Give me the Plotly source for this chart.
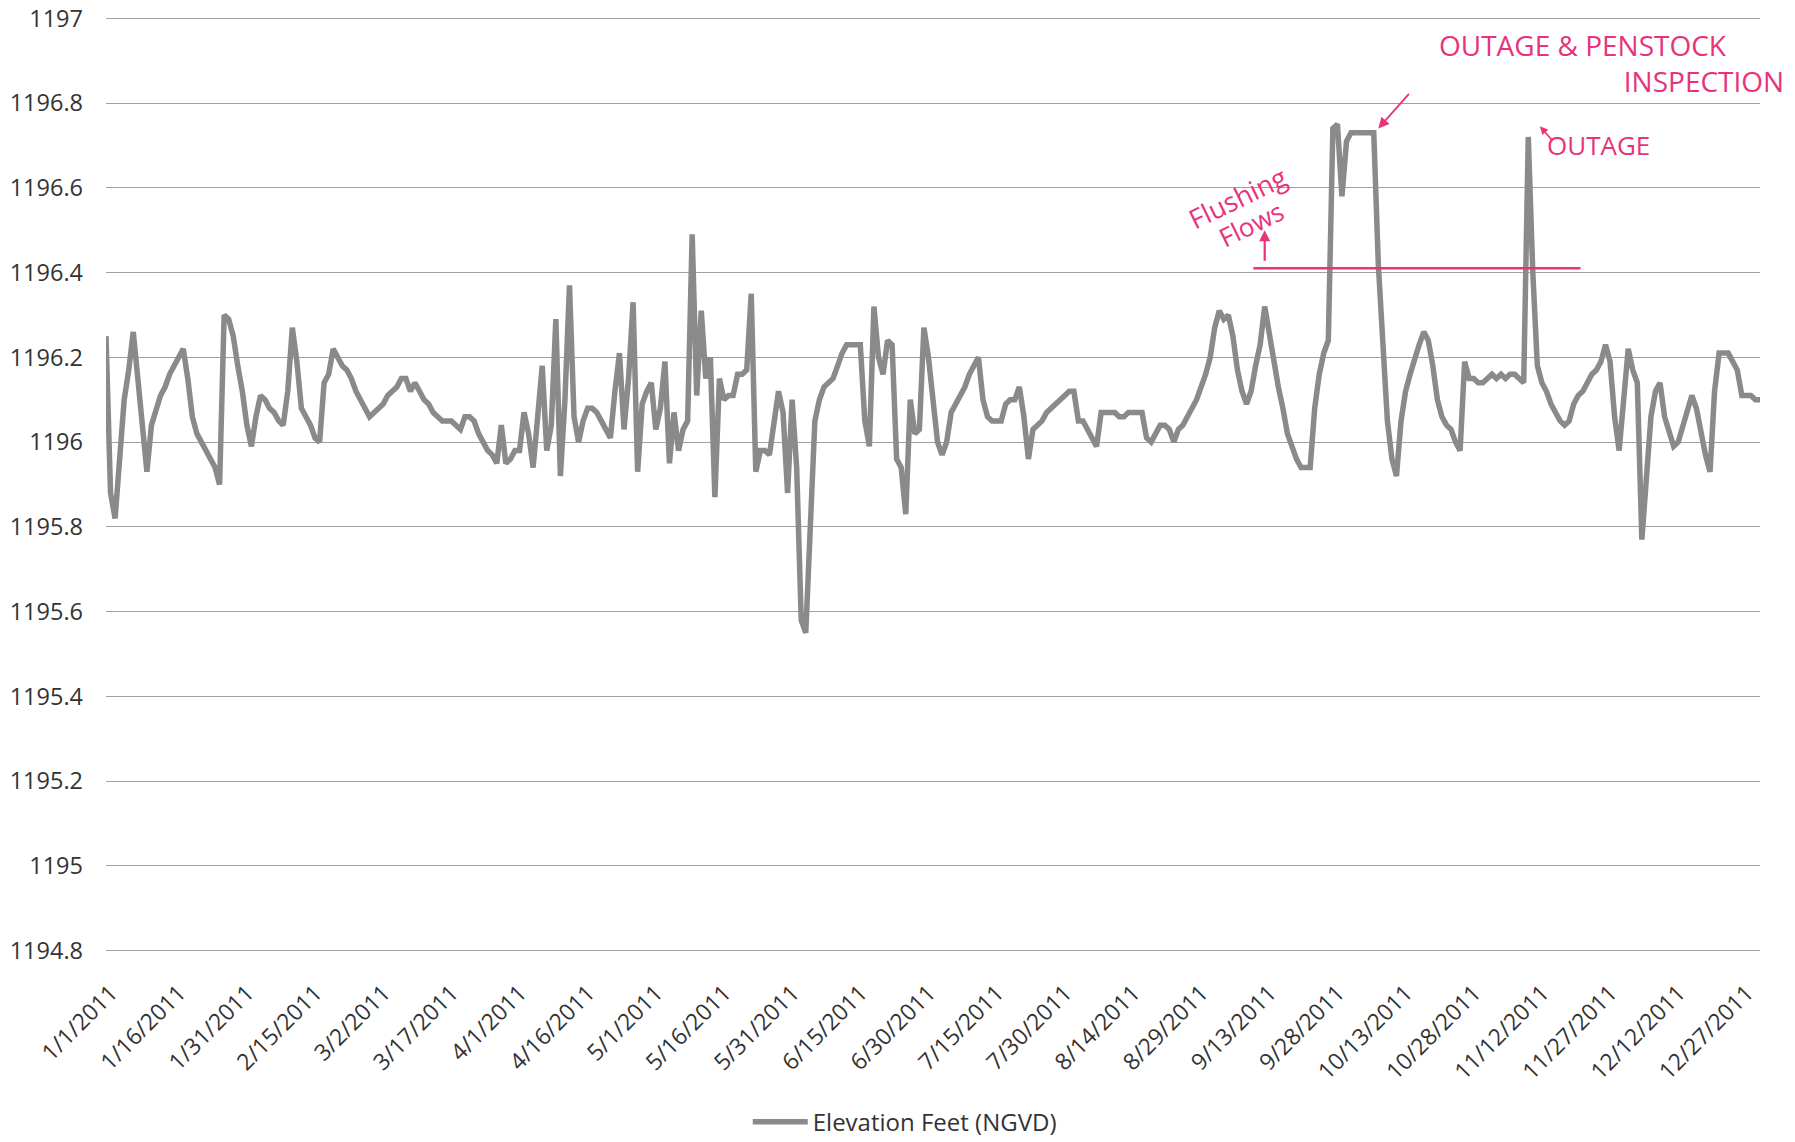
import pandas as pd
import plotly.graph_objects as go

# ---------------- data ----------------
start_date = "2011-01-01"
series_name = "Elevation Feet (NGVD)"

elevation_ft = [
    1196.25, 1195.88, 1195.82, 1195.95, 1196.10, 1196.17, 1196.26, 1196.15, 1196.05, 1195.93,
    1196.04, 1196.08, 1196.11, 1196.13, 1196.16, 1196.18, 1196.20, 1196.22, 1196.15, 1196.06,
    1196.02, 1196.00, 1195.98, 1195.96, 1195.94, 1195.90, 1196.30, 1196.29, 1196.25, 1196.18,
    1196.12, 1196.04, 1195.99, 1196.06, 1196.11, 1196.10, 1196.08, 1196.07, 1196.05, 1196.04,
    1196.12, 1196.27, 1196.19, 1196.08, 1196.06, 1196.04, 1196.01, 1196.00, 1196.14, 1196.16,
    1196.22, 1196.20, 1196.18, 1196.17, 1196.15, 1196.12, 1196.10, 1196.08, 1196.06, 1196.07,
    1196.08, 1196.09, 1196.11, 1196.12, 1196.13, 1196.15, 1196.15, 1196.12, 1196.14, 1196.12,
    1196.10, 1196.09, 1196.07, 1196.06, 1196.05, 1196.05, 1196.05, 1196.04, 1196.03, 1196.06,
    1196.06, 1196.05, 1196.02, 1196.00, 1195.98, 1195.97, 1195.95, 1196.04, 1195.95, 1195.96,
    1195.98, 1195.98, 1196.07, 1196.02, 1195.94, 1196.06, 1196.18, 1195.98, 1196.04, 1196.29,
    1195.92, 1196.10, 1196.37, 1196.06, 1196.00, 1196.05, 1196.08, 1196.08, 1196.07, 1196.05,
    1196.03, 1196.01, 1196.12, 1196.21, 1196.03, 1196.15, 1196.33, 1195.93, 1196.09, 1196.12,
    1196.14, 1196.03, 1196.08, 1196.19, 1195.95, 1196.07, 1195.98, 1196.03, 1196.05, 1196.49,
    1196.11, 1196.31, 1196.15, 1196.20, 1195.87, 1196.15, 1196.10, 1196.11, 1196.11, 1196.16,
    1196.16, 1196.17, 1196.35, 1195.93, 1195.98, 1195.98, 1195.97, 1196.05, 1196.12, 1196.07,
    1195.88, 1196.10, 1195.94, 1195.58, 1195.55, 1195.80, 1196.05, 1196.10, 1196.13, 1196.14,
    1196.15, 1196.18, 1196.21, 1196.23, 1196.23, 1196.23, 1196.23, 1196.05, 1195.99, 1196.32,
    1196.20, 1196.16, 1196.24, 1196.23, 1195.96, 1195.94, 1195.83, 1196.10, 1196.02, 1196.03,
    1196.27, 1196.20, 1196.10, 1196.00, 1195.97, 1196.00, 1196.07, 1196.09, 1196.11, 1196.13,
    1196.16, 1196.18, 1196.20, 1196.10, 1196.06, 1196.05, 1196.05, 1196.05, 1196.09, 1196.10,
    1196.10, 1196.13, 1196.06, 1195.96, 1196.03, 1196.04, 1196.05, 1196.07, 1196.08, 1196.09,
    1196.10, 1196.11, 1196.12, 1196.12, 1196.05, 1196.05, 1196.03, 1196.01, 1195.99, 1196.07,
    1196.07, 1196.07, 1196.07, 1196.06, 1196.06, 1196.07, 1196.07, 1196.07, 1196.07, 1196.01,
    1196.00, 1196.02, 1196.04, 1196.04, 1196.03, 1196.00, 1196.03, 1196.04, 1196.06, 1196.08,
    1196.10, 1196.13, 1196.16, 1196.20, 1196.27, 1196.31, 1196.29, 1196.30, 1196.25, 1196.17,
    1196.12, 1196.09, 1196.12, 1196.18, 1196.23, 1196.32, 1196.25, 1196.19, 1196.13, 1196.08,
    1196.02, 1195.99, 1195.96, 1195.94, 1195.94, 1195.94, 1196.08, 1196.16, 1196.21, 1196.24,
    1196.74, 1196.75, 1196.58, 1196.71, 1196.73, 1196.73, 1196.73, 1196.73, 1196.73, 1196.73,
    1196.42, 1196.22, 1196.05, 1195.96, 1195.92, 1196.05, 1196.12, 1196.16, 1196.20, 1196.23,
    1196.26, 1196.24, 1196.18, 1196.10, 1196.06, 1196.04, 1196.03, 1196.00, 1195.98, 1196.19,
    1196.15, 1196.15, 1196.14, 1196.14, 1196.15, 1196.16, 1196.15, 1196.16, 1196.15, 1196.16,
    1196.16, 1196.15, 1196.14, 1196.72, 1196.40, 1196.18, 1196.14, 1196.12, 1196.09, 1196.07,
    1196.05, 1196.04, 1196.05, 1196.09, 1196.11, 1196.12, 1196.14, 1196.16, 1196.17, 1196.19,
    1196.23, 1196.19, 1196.06, 1195.98, 1196.10, 1196.22, 1196.17, 1196.14, 1195.77, 1195.92,
    1196.06, 1196.12, 1196.14, 1196.06, 1196.02, 1195.99, 1196.00, 1196.04, 1196.08, 1196.11,
    1196.08, 1196.02, 1195.97, 1195.93, 1196.12, 1196.21, 1196.21, 1196.21, 1196.19, 1196.17,
    1196.11, 1196.11, 1196.11, 1196.10, 1196.10,
]

tick_labels = [
    "1/1/2011", "1/16/2011", "1/31/2011", "2/15/2011", "3/2/2011", "3/17/2011",
    "4/1/2011", "4/16/2011", "5/1/2011", "5/16/2011", "5/31/2011", "6/15/2011",
    "6/30/2011", "7/15/2011", "7/30/2011", "8/14/2011", "8/29/2011", "9/13/2011",
    "9/28/2011", "10/13/2011", "10/28/2011", "11/12/2011", "11/27/2011",
    "12/12/2011", "12/27/2011",
]

y_ticks = [1194.8, 1195, 1195.2, 1195.4, 1195.6, 1195.8, 1196, 1196.2, 1196.4,
           1196.6, 1196.8, 1197]

# hand-drawn "flushing flows" reference line
flushing_dates = ["2011-09-10 12:00", "2011-11-21 12:00"]
flushing_level = [1196.41, 1196.41]

# ---------------- figure ----------------
dates = pd.date_range(start_date, periods=len(elevation_ft), freq="D")
tick_dates = pd.to_datetime(tick_labels, format="%m/%d/%Y")

PINK = "#e8337a"
GRAY_TXT = "#333333"
FONT = "Open Sans"
NB = "\u00a0"

fig = go.Figure()
fig.add_trace(go.Scatter(
    x=dates, y=elevation_ft, mode="lines", name=series_name,
    line=dict(color="#8a8a8a", width=5.5),
))
fig.add_trace(go.Scatter(
    x=pd.to_datetime(flushing_dates), y=flushing_level, mode="lines",
    line=dict(color=PINK, width=2.5), showlegend=False, hoverinfo="skip",
))

ann = []
ann.append(dict(x=1.0, xref="paper", y=1196.895, yref="y",
                text="OUTAGE & PENSTOCK" + NB * 8 + "<br>INSPECTION",
                showarrow=False, xanchor="right", yanchor="middle", align="right",
                xshift=26,
                font=dict(family=FONT, size=28, color=PINK)))
ann.append(dict(x="2011-10-08", y=1196.74, xref="x", yref="y", text="",
                showarrow=True, arrowhead=2, arrowsize=1.2, arrowwidth=1.8,
                arrowcolor=PINK, ax=32, ay=-36))
ann.append(dict(x="2011-11-12 14:00", y=1196.745, xref="x", yref="y", text="",
                showarrow=True, arrowhead=2, arrowsize=1, arrowwidth=1.6,
                arrowcolor=PINK, ax=14, ay=16))
ann.append(dict(x="2011-11-13 18:00", y=1196.70, xref="x", yref="y", text="OUTAGE",
                showarrow=False, xanchor="left", yanchor="middle",
                font=dict(family=FONT, size=26, color=PINK)))
ann.append(dict(x="2011-09-07", y=1196.578, xref="x", yref="y", text="Flushing",
                showarrow=False, textangle=-26, xanchor="center", yanchor="middle",
                font=dict(family=FONT, size=27, color=PINK)))
ann.append(dict(x="2011-09-10", y=1196.515, xref="x", yref="y", text="Flows",
                showarrow=False, textangle=-26, xanchor="center", yanchor="middle",
                font=dict(family=FONT, size=26, color=PINK)))
ann.append(dict(x="2011-09-13", y=1196.50, xref="x", yref="y", text="",
                showarrow=True, arrowhead=2, arrowsize=1, arrowwidth=2.2,
                arrowcolor=PINK, ax=0, ay=32))

fig.update_layout(
    width=1795, height=1142,
    margin=dict(l=106, r=35, t=17, b=189.5, autoexpand=False),
    paper_bgcolor="white", plot_bgcolor="white",
    font=dict(family=FONT, color=GRAY_TXT, size=22),
    showlegend=True,
    legend=dict(orientation="h", x=0.388, xanchor="left", y=-0.182, yanchor="middle",
                font=dict(family=FONT, size=24, color=GRAY_TXT),
                itemwidth=55, bgcolor="rgba(0,0,0,0)"),
    annotations=ann,
)
fig.update_xaxes(
    type="date",
    range=[dates[0], dates[-1]],
    tickmode="array", tickvals=tick_dates, ticktext=tick_labels,
    tickangle=-45, tickfont=dict(family=FONT, size=23, color=GRAY_TXT),
    showgrid=False, zeroline=False, showline=False, ticks="",
    ticklabelstandoff=22, ticklabelshift=5, ticklabeloverflow="allow",
)
fig.update_yaxes(
    range=[1194.797, 1197.003],
    tickmode="array", tickvals=y_ticks,
    ticktext=[f"{v:g}" for v in y_ticks],
    tickfont=dict(family=FONT, size=23.5, color=GRAY_TXT),
    showgrid=True, gridcolor="#a0a0a0", gridwidth=1.2,
    zeroline=False, showline=False, ticks="",
    ticklabelstandoff=22, ticklabeloverflow="allow",
)

# remove the page's default body margin so the figure fills the window exactly
fig.write_html("out.html",
               config={"displayModeBar": False},
               post_script="document.body.style.margin='0';"
                           "document.body.style.overflow='hidden';")
